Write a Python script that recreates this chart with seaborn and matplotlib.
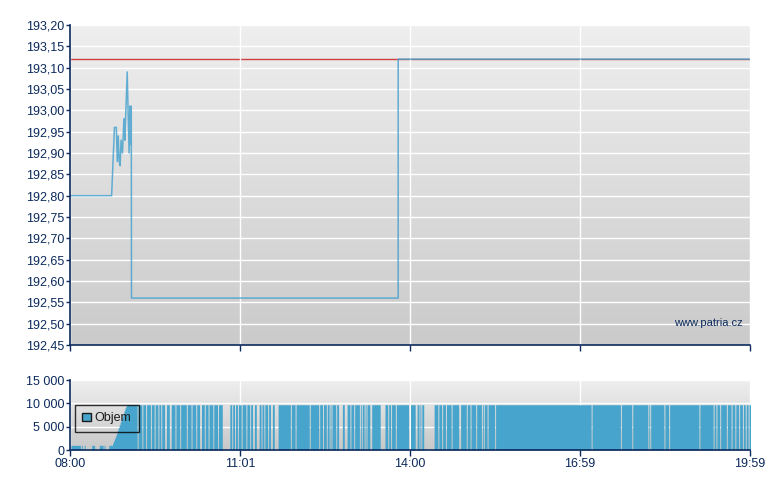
import numpy as np
import pandas as pd
import seaborn as sns
import matplotlib.pyplot as plt
from matplotlib.patches import Patch

# price line (minutes after 08:00, price)
price_minutes = [0, 44, 47, 49, 50, 51, 52, 53, 54, 55.5, 57, 57.5, 58, 60.5, 61.5,
                 62.5, 63.3, 64, 64.8, 65, 347, 347, 719]
price_values = [192.80, 192.80, 192.96, 192.96, 192.88, 192.94, 192.88, 192.87, 192.93,
                192.90, 192.98, 192.98, 192.93, 193.09, 192.99, 192.90, 193.01, 192.92,
                193.01, 192.56, 192.56, 193.12, 193.12]
prev_close = 193.12

price_ticks = [192.45, 192.50, 192.55, 192.60, 192.65, 192.70, 192.75, 192.80, 192.85,
               192.90, 192.95, 193.00, 193.05, 193.10, 193.15, 193.20]
vol_ticks = [0, 5000, 10000, 15000]
vol_tick_labels = ["0", "5 000", "10 000", "15 000"]
time_ticks = [0, 179.75, 359.5, 539.25, 719]
time_labels = ["08:00", "11:01", "14:00", "16:59", "19:59"]

# volume: minute ranges with trades (inclusive); first 7 are small lots
range_start = [1, 12, 15, 23, 31, 36, 41,
               61, 72, 77, 81, 86, 90, 94, 97, 102, 107, 112, 117, 124, 129, 134, 139,
               143, 147, 152, 157, 169, 172, 175, 178, 182, 187, 191, 195, 200, 203, 206,
               210, 214, 220, 234, 239, 254, 264, 268, 272, 275, 277, 282, 288, 293, 297,
               301, 307, 309, 312, 314, 319, 333, 337, 340, 345, 360, 367, 370, 372, 385,
               390, 394, 398, 404, 413, 420, 424, 427, 430, 436, 438, 442,
               450, 552, 583, 595, 612, 614, 629, 634, 666, 681, 684, 688, 695, 700, 704,
               708, 712, 715, 718]
range_end = [10, 12, 15, 25, 34, 36, 44,
             70, 75, 79, 84, 88, 92, 95, 99, 104, 110, 115, 122, 127, 132, 136, 141,
             145, 150, 155, 160, 170, 173, 176, 180, 185, 189, 192, 196, 201, 204, 208,
             211, 215, 232, 237, 252, 262, 266, 270, 273, 275, 280, 283, 289, 295, 299,
             305, 307, 310, 312, 316, 327, 335, 338, 343, 357, 364, 368, 370, 373, 388,
             392, 396, 402, 410, 418, 422, 426, 428, 434, 436, 440, 448,
             550, 581, 593, 610, 612, 627, 632, 664, 679, 682, 686, 693, 698, 702, 706,
             710, 713, 716, 719]
range_vol = [1000] * 7 + [9700] * (len(range_start) - 7)
ramp_minutes = [45, 46, 47, 48, 49, 50, 51, 52, 53, 54, 55, 56, 57, 58, 59, 60]
ramp_vol = [1500, 2000, 2500, 3000, 3600, 4200, 4800, 5400, 6000, 6600, 7200, 7800,
            8400, 9000, 9400, 9700]

minutes, vols = [], []
for s, e, v in zip(range_start, range_end, range_vol):
    for m in range(s, e + 1):
        minutes.append(m)
        vols.append(v)
minutes += ramp_minutes
vols += ramp_vol
vol_df = pd.DataFrame({"minute": minutes, "vol": vols})
price_df = pd.DataFrame({"minute": price_minutes, "price": price_values})

sns.set_style("white")
plt.rcParams['font.family'] = ['Liberation Sans', 'DejaVu Sans']

navy = '#0c2a5c'
blue = '#47a5cd'

fig = plt.figure(figsize=(7.8, 4.9), dpi=100)
ax1 = fig.add_axes([70 / 780, 145 / 490, 680 / 780, 320 / 490])
ax2 = fig.add_axes([70 / 780, 40 / 490, 680 / 780, 70 / 490])

grad = np.linspace(0, 1, 256).reshape(-1, 1)
for ax, top, bot in [(ax1, 0.935, 0.795), (ax2, 0.935, 0.785)]:
    ax.imshow(grad, extent=[0, 1, 0, 1], transform=ax.transAxes, aspect='auto',
              cmap=plt.matplotlib.colors.LinearSegmentedColormap.from_list(
                  'g', [(top, top, top), (bot, bot, bot)]), zorder=0)

# price panel
ax1.axhline(prev_close, color='#d04040', lw=1, zorder=2)
sns.lineplot(data=price_df, x="minute", y="price", estimator=None, sort=False,
             color='#4aa3cf', lw=1.1, alpha=0.85, ax=ax1, zorder=3)
ax1.set_xlim(0, 719)
ax1.set_ylim(192.45, 193.20)
ax1.set_yticks(price_ticks)
ax1.set_yticklabels([f"{v:.2f}".replace('.', ',') for v in price_ticks])
ax1.set_xticks(time_ticks)
ax1.set_xticklabels([])
ax1.text(0.99, 0.069, "www.patria.cz", transform=ax1.transAxes, ha='right',
         va='center', color=navy, fontsize=8)

# volume panel
sns.histplot(data=vol_df, x="minute", weights="vol", binwidth=1, binrange=(0, 720),
             element="step", fill=True, color=blue, alpha=1, linewidth=0, ax=ax2,
             zorder=3)
ax2.set_xlim(0, 719)
ax2.set_ylim(0, 15000)
ax2.set_yticks(vol_ticks)
ax2.set_yticklabels(vol_tick_labels)
ax2.set_xticks(time_ticks)
ax2.set_xticklabels(time_labels)
leg = ax2.legend(handles=[Patch(facecolor=blue, edgecolor='#1a1a1a', label='Objem')],
                 loc='upper left', bbox_to_anchor=(0.007, 0.643), borderaxespad=0,
                 frameon=True, fancybox=False, handlelength=0.7, handleheight=0.7,
                 borderpad=0.6, handletextpad=0.3, fontsize=9)
leg.get_frame().set_facecolor('none')
leg.get_frame().set_edgecolor('black')
leg.get_frame().set_linewidth(1)
for t in leg.get_texts():
    t.set_color('#1a1a1a')

for ax in (ax1, ax2):
    ax.set_xlabel("")
    ax.set_ylabel("")
    ax.grid(True, color='white', lw=1)
    ax.set_axisbelow(False)
    for gl in ax.get_xgridlines() + ax.get_ygridlines():
        gl.set_zorder(1)
    for s in ('top', 'right'):
        ax.spines[s].set_visible(False)
    for s in ('left', 'bottom'):
        ax.spines[s].set_color(navy)
        ax.spines[s].set_linewidth(1.2)
        ax.spines[s].set_zorder(5)
    ax.tick_params(axis='both', direction='out', length=4, width=1, color=navy,
                   labelcolor=navy, labelsize=9, left=True, bottom=True, pad=2)
    ax.tick_params(axis='y', length=3, pad=1)

fig.savefig("out.png", dpi=100)
